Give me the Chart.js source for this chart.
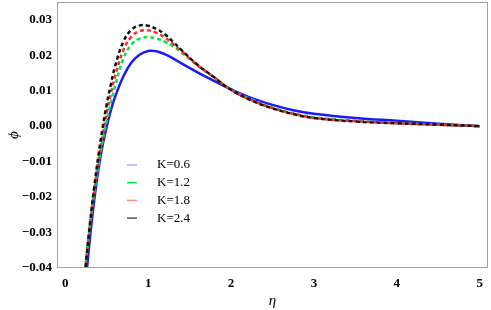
<!DOCTYPE html>
<html>
<head>
<meta charset="utf-8">
<script src="https://cdn.jsdelivr.net/npm/chart.js@4.4.0/dist/chart.umd.min.js"></script>
<style>
  html, body { margin: 0; padding: 0; background: #fff; }
</style>
</head>
<body>
<canvas id="phiChart" width="491" height="310"></canvas>
<script>
// eta grid and phi profiles
const eta = [0.2, 0.25, 0.3, 0.35, 0.4, 0.45, 0.5, 0.55, 0.6, 0.7, 0.8, 0.9, 1.0, 1.1, 1.2, 1.3, 1.4, 1.6, 1.8, 2.0, 2.25, 2.5, 2.75, 3.0, 3.5, 4.0, 4.5, 5.0];
const phiK06 = [-0.0575, -0.0432, -0.031, -0.0207, -0.0122, -0.0054, -0.0002, 0.0045, 0.0082, 0.0140, 0.0180, 0.0202, 0.0212, 0.0211, 0.0203, 0.0191, 0.0177, 0.0151, 0.0127, 0.0104, 0.0079, 0.0060, 0.0045, 0.0035, 0.0023, 0.0015, 0.0007, 0];
const phiK12 = [-0.0502, -0.038, -0.0275, -0.0185, -0.0108, -0.0042, 0.0015, 0.0066, 0.0112, 0.0190, 0.0231, 0.0247, 0.0251, 0.0247, 0.0238, 0.0225, 0.0208, 0.0171, 0.0137, 0.0103, 0.0075, 0.0052, 0.0036, 0.0025, 0.0015, 0.0009, 0.0004, 0];
const phiK18 = [-0.051, -0.0385, -0.0272, -0.0178, -0.0095, -0.0025, 0.0038, 0.0092, 0.0140, 0.0214, 0.0253, 0.0268, 0.0270, 0.0263, 0.0250, 0.0232, 0.0212, 0.0171, 0.0137, 0.0102, 0.0073, 0.0051, 0.0035, 0.0023, 0.0014, 0.0008, 0.0004, 0];
const phiK24 = [-0.0515, -0.0385, -0.027, -0.017, -0.0082, -0.0005, 0.0062, 0.0118, 0.0168, 0.0238, 0.0272, 0.0284, 0.0283, 0.0274, 0.0259, 0.0238, 0.0215, 0.0172, 0.0137, 0.0102, 0.0072, 0.0050, 0.0034, 0.0023, 0.0013, 0.0008, 0.0004, 0];

const seriesLabels = ['K=0.6', 'K=1.2', 'K=1.8', 'K=2.4'];
const lineColors = ['#1a1aff', '#00e640', '#ff2a2a', '#111111'];
const legendColors = ['#a8a8ff', '#00e640', '#ff8a8a', '#555555'];
const xTicks = [0, 1, 2, 3, 4, 5];
const yTicks = [-0.04, -0.03, -0.02, -0.01, 0.00, 0.01, 0.02, 0.03];

const toPoints = ys => eta.map((x, i) => ({ x: x, y: ys[i] }));

const frame = {
  id: 'frame',
  afterDatasetsDraw(chart) {
    const a = chart.chartArea;
    const ctx = chart.ctx;
    ctx.save();
    ctx.strokeStyle = '#a0a0a0';
    ctx.lineWidth = 1;
    ctx.strokeRect(Math.round(a.left) + 0.5, Math.round(a.top) + 0.5,
      Math.round(a.right - a.left) - 1, Math.round(a.bottom - a.top) - 1);
    ctx.restore();
  }
};

// legend sits inside the plot, lower left
const innerLegend = {
  id: 'innerLegend',
  afterDraw(chart) {
    const a = chart.chartArea;
    const ctx = chart.ctx;
    ctx.save();
    ctx.font = '13px "Liberation Serif", "Times New Roman", serif';
    ctx.textBaseline = 'middle';
    chart.data.datasets.forEach((ds, i) => {
      const y = a.top + 163 + i * 17.7;
      ctx.strokeStyle = legendColors[i];
      ctx.lineWidth = 1.5;
      ctx.beginPath();
      ctx.moveTo(a.left + 70, y);
      ctx.lineTo(a.left + 80, y);
      ctx.stroke();
      ctx.fillStyle = '#000';
      ctx.fillText(ds.label, a.left + 100, y);
    });
    ctx.restore();
  }
};

const datasets = [phiK06, phiK12, phiK18, phiK24].map((ys, i) => ({
  label: seriesLabels[i],
  data: toPoints(ys),
  borderColor: lineColors[i],
  borderWidth: 2.5,
  borderDash: i === 0 ? [] : [4, 3],
  pointRadius: 0,
  tension: 0.4,
  fill: false,
  order: 3 - i
}));

const tickFont = { family: '"Liberation Serif", "Times New Roman", serif', size: 13, weight: 'bold' };
const titleFont = { family: '"Liberation Serif", "Times New Roman", serif', size: 15, style: 'italic' };

new Chart(document.getElementById('phiChart'), {
  type: 'line',
  data: { datasets: datasets },
  options: {
    responsive: false,
    animation: false,
    layout: { padding: { top: 2, right: 3, left: 0, bottom: 0 } },
    plugins: { legend: { display: false }, tooltip: { enabled: false } },
    scales: {
      x: {
        type: 'linear',
        min: -0.1,
        max: 5.1,
        afterFit: s => { s.height = 42; s.paddingLeft = 0; s.paddingRight = 0; },
        afterBuildTicks: s => { s.ticks = xTicks.map(v => ({ value: v })); },
        grid: { display: false, drawTicks: false },
        border: { display: false },
        ticks: { color: '#000', font: tickFont, padding: 8, maxRotation: 0,
          callback: v => String(v) },
        title: { display: true, text: 'η', color: '#000', font: titleFont, padding: { top: 0, bottom: 0 } }
      },
      y: {
        type: 'linear',
        min: -0.04,
        max: 0.035,
        afterFit: s => { s.width = 57; s.paddingTop = 0; s.paddingBottom = 0; },
        afterBuildTicks: s => { s.ticks = yTicks.map(v => ({ value: v })); },
        grid: { display: false, drawTicks: false },
        border: { display: false },
        ticks: { color: '#000', font: tickFont, padding: 5,
          callback: v => (v < 0 ? '\u2212' : '') + Math.abs(v).toFixed(2) },
        title: { display: true, text: 'ϕ', color: '#000', font: titleFont, padding: { top: 5, bottom: 0 } }
      }
    }
  },
  plugins: [frame, innerLegend]
});
</script>
</body>
</html>
